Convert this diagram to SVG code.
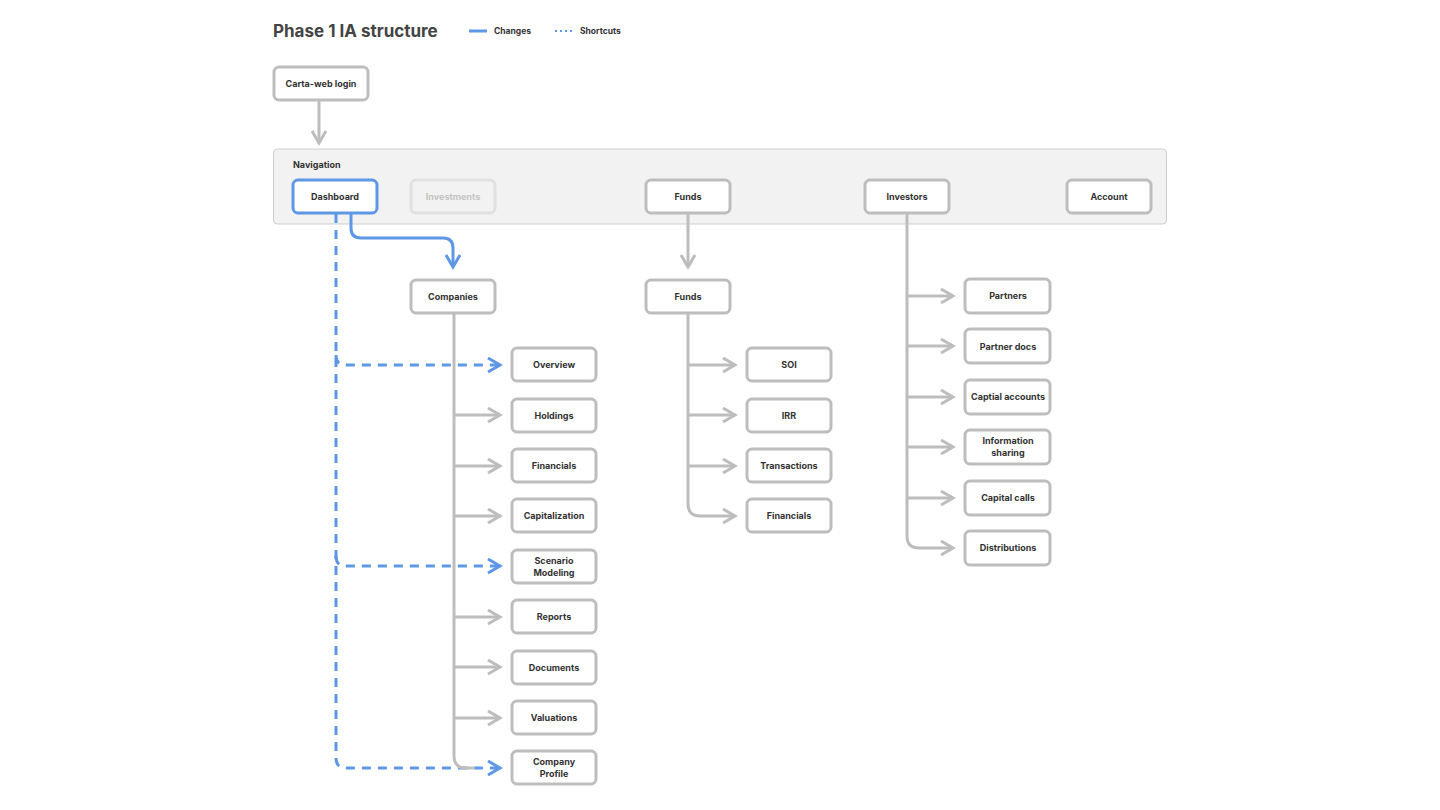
<svg xmlns="http://www.w3.org/2000/svg" width="1440" height="810" viewBox="0 0 1440 810">
<style>
text{font-family:Inter,"Noto Sans",sans-serif;font-weight:700;fill:#333;font-size:9px;text-anchor:middle}
.n rect{fill:#fff;stroke:#bdbdbd;stroke-width:3}
.g{fill:none;stroke:#bdbdbd;stroke-width:3}
.b{fill:none;stroke:#5e97e6;stroke-width:3}
.d{fill:none;stroke:#5e97e6;stroke-width:3;stroke-dasharray:9 7}
</style>
<defs>
<marker id="ag" markerWidth="20" markerHeight="20" refX="14" refY="8" orient="auto" markerUnits="userSpaceOnUse"><polyline points="2,1 14,8 2,15" fill="none" stroke="#bdbdbd" stroke-width="3"/></marker>
<marker id="ab" markerWidth="20" markerHeight="20" refX="14" refY="8" orient="auto" markerUnits="userSpaceOnUse"><polyline points="2,1 14,8 2,15" fill="none" stroke="#5e97e6" stroke-width="3"/></marker>
</defs>
<rect width="1440" height="810" fill="#fff"/>
<text x="273" y="37" style="font-size:17px;text-anchor:start;fill:#444">Phase 1 IA structure</text>
<line x1="469" y1="31" x2="487" y2="31" stroke="#5e97e6" stroke-width="3"/>
<text x="494" y="34" style="text-anchor:start;font-size:8.5px">Changes</text>
<line x1="555" y1="31" x2="573" y2="31" stroke="#5e97e6" stroke-width="2" stroke-dasharray="2 3"/>
<text x="580" y="34" style="text-anchor:start;font-size:8.5px">Shortcuts</text>
<rect x="273.5" y="149" width="893" height="75" rx="4" fill="#f2f2f2" stroke="#cfcfcf"/>
<text x="293" y="168" style="text-anchor:start">Navigation</text>
<g id="connectors">
<path class="g" d="M319 101 V143" marker-end="url(#ag)"/>
<path class="g" d="M688 214 V267" marker-end="url(#ag)"/>
<path class="b" d="M351 214 V228 Q351 238 361 238 H443 Q453 238 453 248 V267" marker-end="url(#ab)"/>
<path class="d" d="M336 214 V758 Q336 768 346 768 H500" marker-end="url(#ab)"/>
<path class="d" d="M336 355 Q336 365 346 365 H500" marker-end="url(#ab)"/>
<path class="d" d="M336 556 Q336 566 346 566 H500" marker-end="url(#ab)"/>
<path class="g" d="M454 314 V756 Q454 768 466 768 H475"/>
<path class="g" d="M454 415 H500" marker-end="url(#ag)"/>
<path class="g" d="M454 466 H500" marker-end="url(#ag)"/>
<path class="g" d="M454 516 H500" marker-end="url(#ag)"/>
<path class="g" d="M454 617 H500" marker-end="url(#ag)"/>
<path class="g" d="M454 667 H500" marker-end="url(#ag)"/>
<path class="g" d="M454 718 H500" marker-end="url(#ag)"/>
<path class="g" d="M688 314 V504 Q688 516 700 516 H735" marker-end="url(#ag)"/>
<path class="g" d="M688 365 H735" marker-end="url(#ag)"/>
<path class="g" d="M688 415 H735" marker-end="url(#ag)"/>
<path class="g" d="M688 466 H735" marker-end="url(#ag)"/>
<path class="g" d="M907 214 V536 Q907 548 919 548 H953" marker-end="url(#ag)"/>
<path class="g" d="M907 296 H953" marker-end="url(#ag)"/>
<path class="g" d="M907 346 H953" marker-end="url(#ag)"/>
<path class="g" d="M907 397 H953" marker-end="url(#ag)"/>
<path class="g" d="M907 447 H953" marker-end="url(#ag)"/>
<path class="g" d="M907 498 H953" marker-end="url(#ag)"/>
</g>
<g id="login" class="n"><rect x="274" y="67" width="94" height="33" rx="5"/><text x="321" y="87">Carta-web login</text></g>
<g id="dashboard" class="n"><rect x="293" y="180" width="84" height="33" rx="5" style="stroke:#5e97e6"/><text x="335" y="200">Dashboard</text></g>
<g id="investments" class="n"><rect x="411" y="180" width="84" height="33" rx="5" style="fill:#f2f2f2;stroke:#e0e0e0"/><text x="453" y="200" style="fill:#c4c4c4">Investments</text></g>
<g id="funds-nav" class="n"><rect x="646" y="180" width="84" height="33" rx="5"/><text x="688" y="200">Funds</text></g>
<g id="investors" class="n"><rect x="865" y="180" width="84" height="33" rx="5"/><text x="907" y="200">Investors</text></g>
<g id="account" class="n"><rect x="1067" y="180" width="84" height="33" rx="5"/><text x="1109" y="200">Account</text></g>
<g id="companies" class="n"><rect x="411" y="280" width="84" height="33" rx="5"/><text x="453" y="300">Companies</text></g>
<g id="funds" class="n"><rect x="646" y="280" width="84" height="33" rx="5"/><text x="688" y="300">Funds</text></g>
<g id="overview" class="n"><rect x="512" y="348" width="84" height="33" rx="5"/><text x="554" y="368">Overview</text></g>
<g id="holdings" class="n"><rect x="512" y="399" width="84" height="33" rx="5"/><text x="554" y="419">Holdings</text></g>
<g id="financials" class="n"><rect x="512" y="449" width="84" height="33" rx="5"/><text x="554" y="469">Financials</text></g>
<g id="capitalization" class="n"><rect x="512" y="499" width="84" height="33" rx="5"/><text x="554" y="519">Capitalization</text></g>
<g id="scenario" class="n"><rect x="512" y="550" width="84" height="33" rx="5"/><text x="554" y="564">Scenario</text><text x="554" y="576">Modeling</text></g>
<g id="reports" class="n"><rect x="512" y="600" width="84" height="33" rx="5"/><text x="554" y="620">Reports</text></g>
<g id="documents" class="n"><rect x="512" y="651" width="84" height="33" rx="5"/><text x="554" y="671">Documents</text></g>
<g id="valuations" class="n"><rect x="512" y="701" width="84" height="33" rx="5"/><text x="554" y="721">Valuations</text></g>
<g id="profile" class="n"><rect x="512" y="751" width="84" height="33" rx="5"/><text x="554" y="765">Company</text><text x="554" y="777">Profile</text></g>
<g id="soi" class="n"><rect x="747" y="348" width="84" height="33" rx="5"/><text x="789" y="368">SOI</text></g>
<g id="irr" class="n"><rect x="747" y="399" width="84" height="33" rx="5"/><text x="789" y="419">IRR</text></g>
<g id="transactions" class="n"><rect x="747" y="449" width="84" height="33" rx="5"/><text x="789" y="469">Transactions</text></g>
<g id="ffinancials" class="n"><rect x="747" y="499" width="84" height="33" rx="5"/><text x="789" y="519">Financials</text></g>
<g id="partners" class="n"><rect x="965" y="279" width="85" height="34" rx="5"/><text x="1008" y="299">Partners</text></g>
<g id="partnerdocs" class="n"><rect x="965" y="329" width="85" height="34" rx="5"/><text x="1008" y="350">Partner docs</text></g>
<g id="capaccounts" class="n"><rect x="965" y="380" width="85" height="34" rx="5"/><text x="1008" y="400">Captial accounts</text></g>
<g id="infosharing" class="n"><rect x="965" y="430" width="85" height="34" rx="5"/><text x="1008" y="444">Information</text><text x="1008" y="456">sharing</text></g>
<g id="capcalls" class="n"><rect x="965" y="481" width="85" height="34" rx="5"/><text x="1008" y="501">Capital calls</text></g>
<g id="distributions" class="n"><rect x="965" y="531" width="85" height="34" rx="5"/><text x="1008" y="551">Distributions</text></g>
</svg>
